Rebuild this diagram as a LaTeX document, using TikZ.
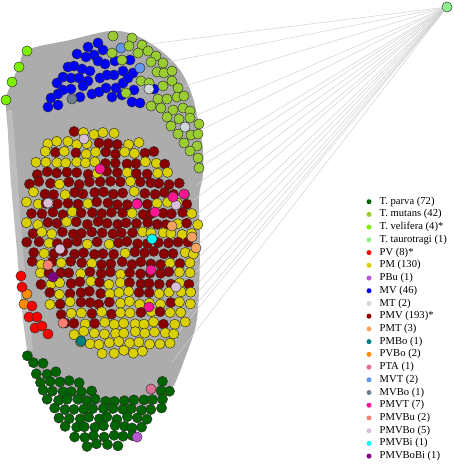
\documentclass[tikz,border=0pt]{standalone}
\usepackage{fontspec}
\setmainfont{Liberation Serif}
\definecolor{cTparva}{RGB}{0,100,0}
\definecolor{cTmut}{RGB}{154,205,50}
\definecolor{cTvel}{RGB}{124,240,0}
\definecolor{cTtau}{RGB}{144,238,144}
\definecolor{cPV}{RGB}{255,0,0}
\definecolor{cPM}{RGB}{218,208,0}
\definecolor{cPBu}{RGB}{186,85,211}
\definecolor{cMV}{RGB}{0,0,255}
\definecolor{cMT}{RGB}{205,215,215}
\definecolor{cPMV}{RGB}{139,0,0}
\definecolor{cPMT}{RGB}{244,164,96}
\definecolor{cPMBo}{RGB}{0,128,128}
\definecolor{cPVBo}{RGB}{255,140,0}
\definecolor{cPTA}{RGB}{219,112,147}
\definecolor{cMVT}{RGB}{100,149,237}
\definecolor{cMVBo}{RGB}{112,128,144}
\definecolor{cPMVT}{RGB}{255,20,147}
\definecolor{cPMVBu}{RGB}{250,128,114}
\definecolor{cPMVBo}{RGB}{216,191,216}
\definecolor{cPMVBi}{RGB}{0,255,255}
\definecolor{cPMVBoBi}{RGB}{128,0,128}
\definecolor{ndline}{RGB}{45,45,45}
\definecolor{blobc}{RGB}{172,172,172}
\definecolor{fanc}{RGB}{210,210,210}
\tikzset{
  nd/.style={circle,draw=ndline,line width=0.45pt,inner sep=0pt,minimum size=10.2pt},
  lgb/.style={circle,inner sep=0pt,minimum size=5pt},
  lgt/.style={anchor=west,inner sep=0pt,font=\fontsize{10.6}{12}\selectfont},
  fan/.style={draw=fanc,line width=0.5pt},
  limeedge/.style={draw=gray!70,line width=0.5pt}
}
\begin{document}
\begin{tikzpicture}[x=1pt,y=-1pt]
\useasboundingbox (0,0) rectangle (454,464);
\fill[white] (0,0) rectangle (454,464);
% gray mesh of edges
\fill[blobc] plot[smooth cycle,tension=0.55] coordinates {
 (27,50) (70,40) (110,31) (135,35) (160,50) (180,70) (192,95) (199,125)
 (203,150) (203,175) (199,198) (200,240) (199,290) (196,325) (186,355)
 (174,385) (160,402) (120,412) (80,405) (50,385) (30,360) (25,320)
 (20,260) (14,190) (8,130) (6,100) (12,82) (19,67)};
\fill[blobc!80!white] plot[smooth,tension=0.6] coordinates {(7,110) (10,170) (16,240) (22,310) (27,350)}
  -- plot[smooth,tension=0.6] coordinates {(33,350) (28,300) (22,240) (17,170) (12,110)} -- cycle;
% fan from T. taurotragi
\node[nd,fill=cTtau] (tt) at (447,7) {};
\foreach \ex/\ey [count=\i] in {142/45,163/63,178/88,190/118,191/135,198/158,199/168,
  196/185,194/200,196/215,194/228,196/247,194/262,192/276,190/292,187/305,183/320,
  176/335,172/362}{
  \coordinate (fe\i) at (\ex,\ey);
  \draw[fan] (tt) -- (fe\i);
}
% T. velifera
\foreach \px/\py [count=\i] in {27/51,19/67,12/82,6/100}{
  \node[nd,fill=cTvel] (tv\i) at (\px,\py) {};
}
\draw[limeedge] (tv1) -- (tv2) -- (tv3) -- (tv4);
% MV blue
\foreach \px/\py [count=\i] in {98/43,88/47,103/50,77/54,86/57,94/55,98/61,105/64,115/61,130/60,
  68/67,74/66,82/69,90/71,100/78,107/75,114/75,123/71,133/73,57/83,63/77,71/78,79/78,
  88/81,83/86,71/89,63/90,58/94,51/98,48/107,58/105,80/97,92/94,99/92,106/88,116/88,
  123/83,128/78,134/90,132/102,140/103,154/89,112/97,122/95}{
  \node[nd,fill=cMV] (mv\i) at (\px,\py) {};
}
\node[nd,fill=cMVBo] (mvbo) at (72,99) {};
\node[nd,fill=cMVT] (mvt1) at (121,48) {};
\node[nd,fill=cMVT] (mvt2) at (140,68) {};
% T. mutans
\foreach \px/\py [count=\i] in {113/36,132/38,129/46,142/45,112/53,122/60,138/53,148/51,
  156/56,151/62,163/63,157/72,164/73,172/71,141/81,149/83,163/86,172/81,178/88,126/93,
  158/99,167/99,177/97,184/96,151/106,161/108,173/110,183/108,190/111,167/117,179/119,
  190/118,171/126,178/134,191/135,198/134,184/143,197/146,190/151,198/158,199/168,199/124}{
  \node[nd,fill=cTmut] (tm\i) at (\px,\py) {};
}
\node[nd,fill=cMT] (mt1) at (149,89) {};
\node[nd,fill=cMT] (mt2) at (185,127) {};
% PM / PMV mixed region
\pgfmathsetseed{4711}
\foreach \yy/\xl/\xr [count=\ri] in {133/68/115,143/48/145,153/40/158,163/36/168,
  173/32/176,183/30/183,193/29/189,203/27/194,213/27/196,223/27/197,233/27/197,
  243/28/197,253/29/197,263/31/196,273/35/196,283/40/195,293/45/193,303/50/191,
  313/56/189,323/64/186,333/70/182,343/80/172,352/98/150}{
  \pgfmathsetmacro\moff{mod(\ri,2)*5}
  \pgfmathtruncatemacro\mnum{(\xr-\xl-\moff)/10}
  \foreach \k in {0,...,\mnum}{
    \pgfmathsetmacro\mx{\xl+\moff+\k*10+rand*1.3}
    \pgfmathsetmacro\my{\yy+rand*1.7}
    \pgfmathsetmacro\mdist{sqrt(((\mx-112)/86)^2+((\my-243)/112)^2)}
    \pgfmathsetmacro\mprob{0.2+0.55*min(1,max(0,(\mdist-0.6)/0.4))+0.3*(\my>285)*(\mx>95)}
    \pgfmathsetmacro\mrr{rnd}
    \ifdim\mrr pt<\mprob pt \def\mcol{cPM}\else\def\mcol{cPMV}\fi
    \node[nd,fill=\mcol] (m\ri-\k) at (\mx,\my) {};
  }
}
% special categories
\foreach \px/\py [count=\i] in {84/139,48/203,60/249,176/205,176/287}{
  \node[nd,fill=cPMVBo] (pmvbo\i) at (\px,\py) {};}
\foreach \px/\py [count=\i] in {100/169,184/194,173/197,137/204,155/212,151/270,149/307}{
  \node[nd,fill=cPMVT] (pmvt\i) at (\px,\py) {};}
\foreach \px/\py [count=\i] in {172/226,192/237,196/248}{
  \node[nd,fill=cPMT] (pmt\i) at (\px,\py) {};}
\node[nd,fill=cPMVBi] (pmvbi) at (152,239) {};
\node[nd,fill=cPMVBu] (pmvbu1) at (48,265) {};
\node[nd,fill=cPMVBu] (pmvbu2) at (63,323) {};
\node[nd,fill=cPMVBoBi] (pmvbobi) at (53,277) {};
\node[nd,fill=cPMBo] (pmbo) at (81,341) {};
\node[nd,fill=cPVBo] (pvbo1) at (27,294) {};
\node[nd,fill=cPVBo] (pvbo2) at (24,304) {};
\foreach \px/\py [count=\i] in {21/276,22/287,32/306,29/317,37/317,35/328,42/326,48/334}{
  \node[nd,fill=cPV] (pv\i) at (\px,\py) {};}
% T. parva bowl
\foreach \yy/\xl/\xr [count=\ri] in {355/28/28,364/33/45,373/37/62,382/40/80,382/163/170,
  391/43/100,391/160/170,400/48/168,409/55/162,418/60/155,427/66/148,436/75/138,445/88/118}{
  \pgfmathtruncatemacro\gnum{(\xr-\xl)/9.6}
  \foreach \k in {0,...,\gnum}{
    \pgfmathsetmacro\gx{\xl+\k*9.6+rand*1.2}
    \pgfmathsetmacro\gy{\yy+rand*1.5}
    \node[nd,fill=cTparva] (tp\ri-\k) at (\gx,\gy) {};
  }
}
\node[nd,fill=cPTA] (pta) at (151,389) {};
\node[nd,fill=cPBu] (pbu) at (137,437) {};
% legend
\foreach \col/\txt [count=\i] in {cTparva/T. parva (72),cTmut/T. mutans (42),
  cTvel/T. velifera (4)*,cTtau/T. taurotragi (1),cPV/PV (8)*,cPM/PM (130),cPBu/PBu (1),
  cMV/MV (46),cMT/MT (2),cPMV/PMV (193)*,cPMT/PMT (3),cPMBo/PMBo (1),cPVBo/PVBo (2),
  cPTA/PTA (1),cMVT/MVT (2),cMVBo/MVBo (1),cPMVT/PMVT (7),cPMVBu/PMVBu (2),
  cPMVBo/PMVBo (5),cPMVBi/PMVBi (1),cPMVBoBi/PMVBoBi (1)}{
  \node[lgb,fill=\col] (lb\i) at (369,{201.7+(\i-1)*12.72}) {};
  \node[lgt] (lt\i) at (379.5,{201.7+(\i-1)*12.72}) {\txt};
}
\end{tikzpicture}
\end{document}
